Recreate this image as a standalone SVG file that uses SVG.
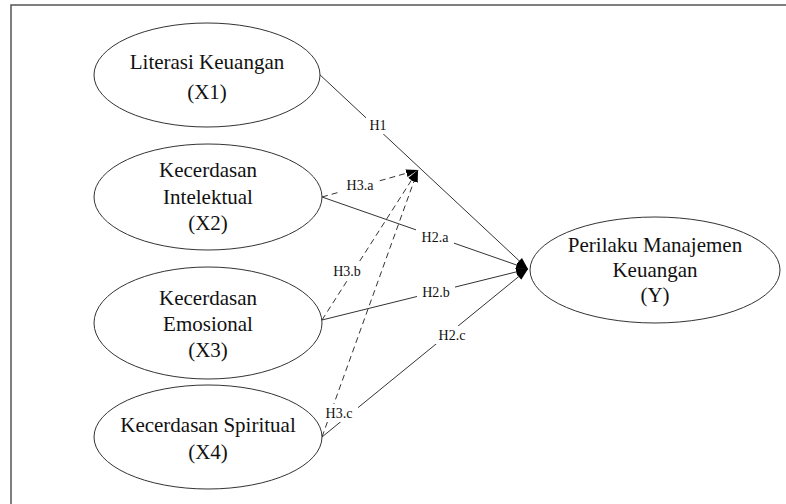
<svg xmlns="http://www.w3.org/2000/svg" width="786" height="504" viewBox="0 0 786 504">
<style>
  .node ellipse { fill: #fff; stroke: #333; stroke-width: 1; }
  .node text { font-family: "Liberation Serif", "Times New Roman", serif; font-size: 21px; fill: #111; text-anchor: middle; }
  .conn line { stroke: #333; stroke-width: 1; fill: none; }
  .conn .dash { stroke-dasharray: 6 4; }
  .lbl rect { fill: #fff; }
  .lbl text { font-family: "Liberation Serif", "Times New Roman", serif; font-size: 14px; fill: #111; text-anchor: middle; }
</style>
<defs>
  <marker id="arr" viewBox="0 0 12 10" refX="12" refY="5" markerWidth="12" markerHeight="10" markerUnits="userSpaceOnUse" orient="auto">
    <path d="M0,1 L12,5 L0,9 Z" fill="#000"/>
  </marker>
</defs>
<rect width="786" height="504" fill="#fff"/>
<path d="M11,504 L11,5 L786,5" fill="none" stroke="#555" stroke-width="1.5"/>

<g class="conn" id="connectors">
  <line x1="318" y1="73" x2="528" y2="269" marker-end="url(#arr)"/>
  <line x1="322" y1="197" x2="528" y2="269" marker-end="url(#arr)"/>
  <line x1="322" y1="320" x2="528" y2="269" marker-end="url(#arr)"/>
  <line x1="322" y1="437" x2="528" y2="269" marker-end="url(#arr)"/>
  <line class="dash" x1="322" y1="197" x2="418" y2="170" marker-end="url(#arr)"/>
  <line class="dash" x1="322" y1="320" x2="418" y2="170" marker-end="url(#arr)"/>
  <line class="dash" x1="322" y1="437" x2="418" y2="170" marker-end="url(#arr)"/>
</g>

<g class="lbl" id="labels">
  <rect x="366" y="116" width="24" height="18"/><text x="378" y="130">H1</text>
  <rect x="341" y="176" width="38" height="18"/><text x="360" y="190">H3.a</text>
  <rect x="416" y="228" width="38" height="18"/><text x="435" y="242">H2.a</text>
  <rect x="328" y="262" width="38" height="18"/><text x="347" y="276">H3.b</text>
  <rect x="417" y="283" width="38" height="18"/><text x="436" y="297">H2.b</text>
  <rect x="433" y="326" width="38" height="18"/><text x="452" y="340">H2.c</text>
  <rect x="320" y="404" width="38" height="18"/><text x="339" y="418">H3.c</text>
</g>

<g class="node" id="x1">
  <ellipse cx="207" cy="75" rx="113" ry="52"/>
  <text x="207" y="69">Literasi Keuangan</text>
  <text x="207" y="99">(X1)</text>
</g>
<g class="node" id="x2">
  <ellipse cx="208" cy="197" rx="114" ry="53"/>
  <text x="208" y="177">Kecerdasan</text>
  <text x="208" y="204">Intelektual</text>
  <text x="208" y="230">(X2)</text>
</g>
<g class="node" id="x3">
  <ellipse cx="208" cy="323" rx="114" ry="56"/>
  <text x="208" y="305">Kecerdasan</text>
  <text x="208" y="331">Emosional</text>
  <text x="208" y="357">(X3)</text>
</g>
<g class="node" id="x4">
  <ellipse cx="208" cy="437" rx="114" ry="52"/>
  <text x="208" y="432">Kecerdasan Spiritual</text>
  <text x="208" y="459">(X4)</text>
</g>
<g class="node" id="y">
  <ellipse cx="655" cy="270" rx="125" ry="53"/>
  <text x="655" y="252">Perilaku Manajemen</text>
  <text x="655" y="277">Keuangan</text>
  <text x="655" y="302">(Y)</text>
</g>
</svg>
